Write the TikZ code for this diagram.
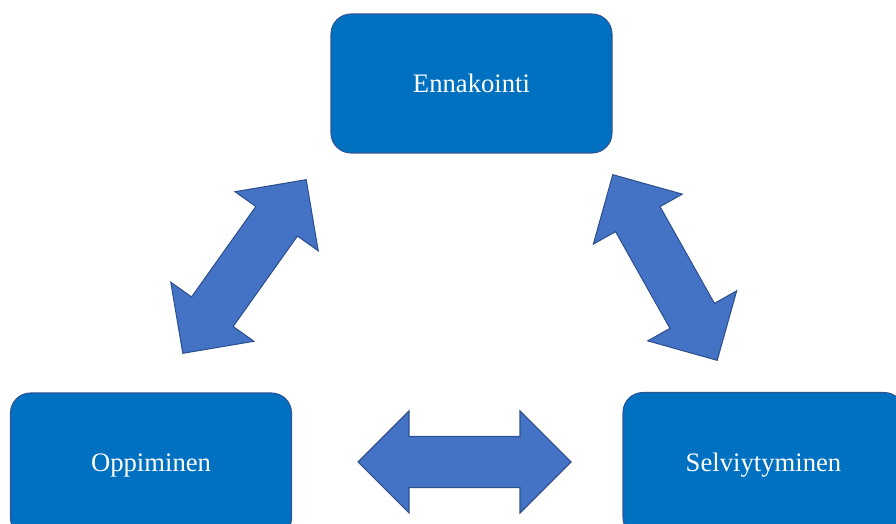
\documentclass[tikz,border=0pt]{standalone}
\usepackage{fontspec}
\setmainfont{Liberation Serif}
\definecolor{boxblue}{HTML}{0070C0}
\definecolor{boxline}{HTML}{2F5597}
\definecolor{arrblue}{HTML}{4472C4}
\definecolor{arrline}{HTML}{2F528F}
\newcommand\dblarrow[2]{%
  \draw[bigarrow,shift={(#1)},rotate=#2]
    (-106.5,0) -- (-55.5,51) -- (-55.5,25.5) -- (55.5,25.5) -- (55.5,51) --
    (106.5,0) -- (55.5,-51) -- (55.5,-25.5) -- (-55.5,-25.5) -- (-55.5,-51) -- cycle;}

\begin{document}
\begin{tikzpicture}[x=0.75pt,y=0.75pt,
    box/.style={draw=boxline,line width=0.8pt,fill=boxblue,rounded corners=15pt,
      minimum width=210.75pt,minimum height=104.25pt,text=white,
      font=\fontsize{20}{24}\selectfont},
    bigarrow/.style={draw=arrline,line width=0.8pt,fill=arrblue,line join=miter}]
    \useasboundingbox (0,0) rectangle (896,524);

    \node[box] (enn) at (471.5,440.5) {Ennakointi};
    \node[box,minimum height=108.75pt] (opp) at (151,58.5)   {Oppiminen};
    \node[box,minimum height=108.75pt] (sel) at (763.5,59)   {Selviytyminen};

    \coordinate (ennopp) at (244.5,257.5);
    \coordinate (ennsel) at (665,256.5);
    \coordinate (oppsel) at (464.5,62);

    \dblarrow{ennopp}{54.6}
    \dblarrow{ennsel}{119.35}
    \dblarrow{oppsel}{0}
\end{tikzpicture}
\end{document}
